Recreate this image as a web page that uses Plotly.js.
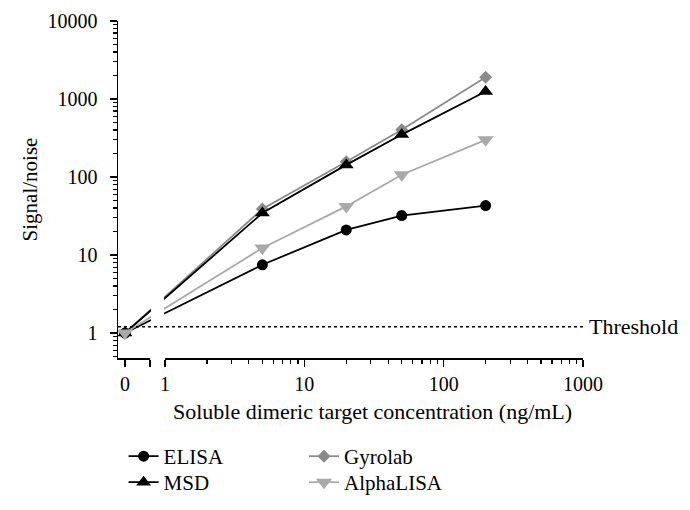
<!DOCTYPE html>
<html>
<head>
<meta charset="utf-8">
<script src="https://cdn.plot.ly/plotly-3.0.1.min.js"></script>
<style>html,body{margin:0;padding:0;background:#fff;}#chart{width:690px;height:510px;}</style>
</head>
<body>
<div id="chart"></div>
<script>
// concentrations (ng/mL); 0 is drawn on the broken "0" segment of the axis
const concentration = [0, 5, 20, 50, 200];
const elisa     = [1, 7.5, 21, 32, 43];
const msd       = [1, 34.5, 143, 350, 1250];
const gyrolab   = [1, 39, 157, 403, 1900];
const alphalisa = [1, 12.3, 42, 107, 300];
const thresholdValue = 1.2;
const xTickVals = [1, 10, 100, 1000];
const xTickText = ['1', '10', '100', '1000'];
const yTickVals = [1, 10, 100, 1000, 10000];
const yTickText = ['1', '10', '100', '1000', '10000'];

const FONT = '"Liberation Serif", "Times New Roman", serif';
// Broken axis: the "0" category is displayed at this position of the log scale
const ZERO_POS = 0.516;
const xs = concentration.map(c => c === 0 ? ZERO_POS : c);

function tr(name, y, color, symbol, size, legend) {
  return {
    x: xs, y: y, name: name, type: 'scatter', mode: 'lines+markers',
    xaxis: 'x', yaxis: 'y', legend: legend,
    line: {color: color, width: 1.8},
    marker: {color: color, symbol: symbol, size: size, line: {width: 0}},
    cliponaxis: true
  };
}

const data = [
  tr('Gyrolab', gyrolab, '#8a8a8a', 'diamond', 10, 'legend2'),
  tr('ELISA', elisa, '#000000', 'circle', 11, 'legend'),
  tr('MSD', msd, '#000000', 'triangle-up', 13, 'legend3'),
  tr('AlphaLISA', alphalisa, '#a9a9a9', 'triangle-down', 14, 'legend4'),
  {x: [], y: [], xaxis: 'x2', yaxis: 'y', showlegend: false, hoverinfo: 'skip', type: 'scatter'},
  {x: [], y: [], xaxis: 'x3', yaxis: 'y', showlegend: false, hoverinfo: 'skip', type: 'scatter'}
];

const seg1End = 32 / 465;
const seg2Start = 47 / 465;

function leg(x, y) {
  return {x: x, y: y, xref: 'paper', yref: 'container', xanchor: 'left', yanchor: 'top', orientation: 'v',
          font: {family: FONT, size: 21}, bgcolor: 'rgba(0,0,0,0)', tracegroupgap: 0, itemwidth: 30};
}

const layout = {
  width: 690, height: 510,
  margin: {l: 118, r: 107, t: 21, b: 152, autoexpand: false},
  paper_bgcolor: '#fff', plot_bgcolor: 'rgba(0,0,0,0)',
  font: {family: FONT, size: 20, color: '#000'},
  showlegend: true,
  xaxis: {type: 'log', range: [-47 / (418 / 3), 3], domain: [0, 1], visible: false, fixedrange: true},
  xaxis2: {
    type: 'log', range: [0, 3], domain: [seg2Start, 1], anchor: 'y',
    showline: true, linecolor: '#000', linewidth: 1.5,
    ticks: 'outside', ticklen: 7, tickwidth: 1.5, tickcolor: '#000',
    tickvals: xTickVals, ticktext: xTickText,
    minor: {ticks: 'outside', ticklen: 4, tickwidth: 1.2, tickcolor: '#000', dtick: 'D1', showgrid: false},
    showgrid: false, zeroline: false,
    tickfont: {family: FONT, size: 20}
  },
  xaxis3: {
    type: 'linear', range: [-0.28, 1], domain: [0, seg1End], anchor: 'y',
    showline: true, linecolor: '#000', linewidth: 1.5,
    ticks: 'outside', ticklen: 7, tickwidth: 1.5, tickcolor: '#000',
    tickvals: [0, 1], ticktext: ['0', ''],
    showgrid: false, zeroline: false,
    tickfont: {family: FONT, size: 20}
  },
  yaxis: {
    type: 'log', range: [-0.32, 4], anchor: 'x',
    showline: true, linecolor: '#000', linewidth: 1.5,
    ticks: 'outside', ticklen: 7, tickwidth: 1.5, tickcolor: '#000',
    tickvals: yTickVals, ticktext: yTickText, ticklabelstandoff: 8,
    minor: {ticks: 'outside', ticklen: 4, tickwidth: 1.2, tickcolor: '#000', dtick: 'D1', showgrid: false},
    showgrid: false, zeroline: false,
    title: {text: 'Signal/noise', font: {family: FONT, size: 21}, standoff: 4},
    tickfont: {family: FONT, size: 20}
  },
  shapes: [
    {type: 'rect', xref: 'paper', yref: 'paper', x0: seg1End + 0.002, x1: seg2Start - 0.002, y0: -0.005, y1: 1.02,
     fillcolor: '#fff', line: {width: 0}, layer: 'above'},
    {type: 'line', xref: 'paper', yref: 'y', x0: 0, x1: 1, y0: thresholdValue, y1: thresholdValue,
     line: {color: '#000', width: 1.5, dash: 'dot'}, layer: 'above'}
  ],
  annotations: [
    {text: 'Threshold', xref: 'paper', yref: 'y', x: 1, y: Math.log10(thresholdValue), xanchor: 'left', yanchor: 'middle',
     xshift: 4, showarrow: false, font: {family: FONT, size: 22}},
    {text: 'Soluble dimeric target concentration (ng/mL)', xref: 'paper', yref: 'paper', x: 0.548, y: -0.16,
     xanchor: 'center', yanchor: 'middle', showarrow: false, font: {family: FONT, size: 22}}
  ],
  legend: leg(0.012, 0.145),
  legend3: leg(0.012, 0.094),
  legend2: leg(0.40, 0.145),
  legend4: leg(0.40, 0.094)
};

Plotly.newPlot('chart', data, layout, {staticPlot: true, displayModeBar: false});
</script>
</body>
</html>
